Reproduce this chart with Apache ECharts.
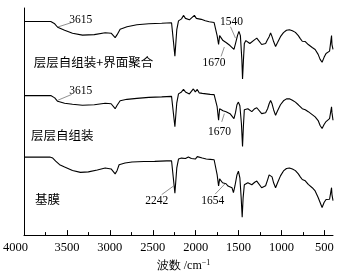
<!DOCTYPE html>
<html>
<head>
<meta charset="utf-8">
<script src="https://cdn.jsdelivr.net/npm/echarts@6/dist/echarts.min.js"></script>
<style>
  html, body { margin: 0; padding: 0; background: #fff; }
  #ftir { width: 345px; height: 277px; }
</style>
</head>
<body>
<div id="ftir"></div>
<script>
// 波数 (cm-1) 与透过率（相对值）——三条谱线
const wnTop = [4000,3688,3642,3608,3527,3435,3319,3181,3054,2985,2938,2915,2880,2800,2685,2546,2396,2281,2258,2242,2220,2200,
  2165,2142,2119,2096,2073,2050,2015,1992,1969,1935,1888,1842,1785,1762,1750,1733,1721,1704,1681,1663,1646,1623,1600,1577,1554,1536,
  1513,1496,1479,1462,1454,1444,1433,1415,1392,1369,1346,1312,1288,1265,1231,1208,1185,1162,1144,1127,1110,1092,1069,1046,1012,977,
  942,908,873,838,804,781,758,723,688,642,608,573,550,527,504,481,458,440,429,417,412,400];
const tTop = [216.3,216.3,214,210.5,207.5,204.5,202.5,203,205,204.5,200,203,208.5,211,213,214,214.5,215,214,181.3,208,217,
  219,222.5,219.5,220,218,219,222.5,219.5,218,218.5,217,216,215.3,214.5,202,193,202,200,197,199,195,194,192,191,188,194,
  202,206.3,202,178,158,176,194,197,196,194,193,198,199.5,197.5,193,191.3,194,198,201,204.7,201,196,191,195,201,205,
  207.5,208,207,205.3,202,199,196.3,196,193,190,188,183,178,175,180,184,186,186.3,185,202,193,188];

const wnMid = [4000,3688,3642,3608,3527,3435,3319,3181,3054,2985,2938,2915,2880,2800,2685,2546,2396,2281,2258,2242,2220,2200,
  2165,2142,2119,2096,2073,2050,2027,2004,1981,1958,1923,1877,1831,1785,1762,1750,1733,1721,1704,1681,1663,1646,1623,1600,1577,1554,
  1536,1519,1502,1485,1467,1454,1444,1433,1415,1392,1369,1346,1312,1288,1265,1231,1208,1185,1162,1144,1127,1110,1092,1069,1046,1012,
  977,942,908,873,838,804,781,758,723,688,642,608,573,550,527,504,481,458,440,429,417,412,400];
const tMid = [141.3,141.3,139,135.5,133.5,132.5,131.5,132,133.5,133,128,131.5,136,137.5,138.5,139.5,140,140.5,139.5,109.7,134,143,
  145,147.5,145,144,143,145,148,145,147.5,144,143.5,143,142.5,142.3,141.5,130,116.3,128,127.5,126,127.5,125,124.5,123,121,118,
  124,132,134.7,131,113,89.7,110,127,129,128,126,125,128,129,127,123,121.3,124,128,133,136.3,133,127,121.3,126,132,
  136,138,138,136.5,134.7,132,130,128,127,125,122,119.7,116,111,108,112,115,117,118,116.5,130,124,116.3];

const wnBase = [4000,3700,3665,3631,3585,3527,3435,3342,3250,3146,3054,2985,2938,2915,2892,2823,2742,2604,2477,2338,2281,2258,2242,2220,2200,
  2165,2142,2119,2085,2050,2027,2004,1981,1958,1923,1877,1831,1785,1762,1750,1733,1721,1704,1687,1669,1646,1623,1600,1577,1560,1542,
  1519,1502,1485,1470,1458,1447,1433,1415,1392,1369,1346,1312,1288,1265,1231,1208,1185,1162,1144,1127,1110,1092,1069,1046,1012,
  977,942,908,873,838,804,781,758,723,688,642,608,573,550,527,504,481,458,440,429,417,412,400];
const tBase = [79,79,78,75,71.3,69,65.5,63.5,64,66,68,67,62,65.5,71.3,73,74,74.5,74.7,75.2,75.3,74.5,42.5,68,77,
  78,79.5,77.5,79,77.5,79,77,79.5,77.5,78,77,76.7,76.3,75.5,61.3,49.7,57,56.3,53,51.3,52,49.7,49.5,48,43,50,
  61,64.7,58,38,18,38,51,52,53,51.5,51,53.5,54.7,53,48,46.3,50,56,61,63,59,53,48,53,60,
  65,67.5,68,67,65.3,62,59,56.3,55,51.3,48,44.7,38,33,28,33,36,36.5,36.3,35,48,41,35];

const sampleNames = ['层层自组装+界面聚合', '层层自组装', '基膜'];
const xTickLabels = [500, 1000, 1500, 2000, 2500, 3000, 3500, 4000];
const xMinorTicks = [750, 1250, 1750, 2250, 2750, 3250, 3750];
const peakNotes = [['3615', '1670', '1540'], ['3615', '1670'], ['2242', '1654']];

const zip = (a, b) => a.map((v, i) => [v, b[i]]);
const traces = [zip(wnTop, tTop), zip(wnMid, tMid), zip(wnBase, tBase)];

// 文字位置（数据坐标）与引线
const layout = [
  { name: [3885, 175.3], notes: [[3339, 218], [1785, 174.7], [1583, 216.3]],
    lines: [[[3443, 215.3], [3608, 210.7]], [[1704, 181], [1666, 190.5]], [[1594, 211], [1536, 199.5]]] },
  { name: [3919, 101.3], notes: [[3339, 145.7], [1723, 104]],
    lines: [[[3443, 142.5], [3608, 136.5]], [[1696, 114.7], [1666, 123]]] },
  { name: [3873, 36.5], notes: [[2454, 34.7], [1802, 34.7]],
    lines: [[[2396, 41], [2258, 49.7]], [[1773, 41.5], [1658, 52]]] }
];

const serif = 'Liberation Serif';
const cjk = 'Noto Sans CJK SC';

const series = traces.map((d, i) => ({
  type: 'line',
  data: d,
  symbol: 'none',
  lineStyle: { color: '#000', width: 1.1 },
  silent: true,
  markPoint: {
    symbol: 'circle', symbolSize: 0, silent: true, animation: false,
    data: [
      { coord: layout[i].name, value: sampleNames[i],
        label: { show: true, position: 'right', distance: 0, formatter: sampleNames[i],
                 color: '#000', fontSize: 12.5, fontFamily: cjk } }
    ].concat(peakNotes[i].map((t, k) => ({
      coord: layout[i].notes[k], value: t,
      label: { show: true, position: 'inside', formatter: t, color: '#000', fontSize: 11.5, fontFamily: serif }
    })))
  },
  markLine: {
    symbol: ['none', 'none'], silent: true, animation: false,
    label: { show: false },
    lineStyle: { color: '#444', width: 0.6, type: 'solid' },
    data: layout[i].lines.map(l => [{ coord: l[0] }, { coord: l[1] }])
  }
}));

const chart = echarts.init(document.getElementById('ftir'));
chart.setOption({
  animation: false,
  grid: { left: 21, right: 12, top: 8, bottom: 39 },
  xAxis: [{
    type: 'value',
    inverse: true,
    min: 400,
    max: 4000,
    name: '{a|波数 /cm}{b|−1}',
    nameLocation: 'middle',
    nameGap: 11,
    nameTextStyle: {
      padding: [0, 0, 0, 10],
      rich: {
        a: { fontSize: 12, fontFamily: serif, color: '#000', lineHeight: 14 },
        b: { fontSize: 8, fontFamily: serif, color: '#000', verticalAlign: 'top', lineHeight: 14 }
      }
    },
    axisLine: { lineStyle: { color: '#000', width: 1 } },
    axisTick: { inside: true, length: 5, customValues: xTickLabels, lineStyle: { color: '#000' } },
    axisLabel: {
      customValues: xTickLabels,
      color: '#000', fontSize: 12.5, fontFamily: serif, margin: 6,
      formatter: v => v === 4000 ? '{l|4000}' : String(v),
      rich: { l: { fontSize: 12.5, fontFamily: serif, color: '#000', padding: [0, 17, 0, 0] } }
    },
    splitLine: { show: false }
  }, {
    // 次刻度
    type: 'value',
    inverse: true,
    min: 400,
    max: 4000,
    position: 'bottom',
    axisLine: { show: false },
    axisTick: { inside: true, length: 3, customValues: xMinorTicks, lineStyle: { color: '#000' } },
    axisLabel: { show: false },
    splitLine: { show: false }
  }],
  yAxis: {
    type: 'value',
    min: 0,
    max: 230,
    axisLine: { show: true, lineStyle: { color: '#000', width: 1 } },
    axisTick: { show: false },
    axisLabel: { show: false },
    splitLine: { show: false }
  },
  series: series
});
</script>
</body>
</html>
